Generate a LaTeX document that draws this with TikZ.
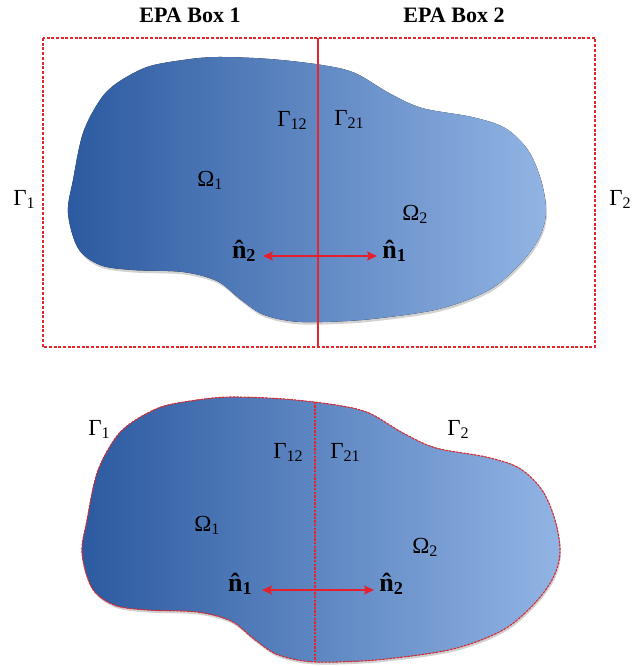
\documentclass[tikz,border=0pt]{standalone}
\usepackage{fontspec}
\setmainfont{Liberation Serif}
\usetikzlibrary{arrows.meta}
\definecolor{boxred}{RGB}{228,38,45}
\definecolor{arrred}{RGB}{232,30,42}
\definecolor{blobL}{RGB}{44,90,160}
\definecolor{blobM}{RGB}{64,126,206}
\definecolor{blobR}{RGB}{145,180,228}
\newcommand{\nhat}{\ooalign{n\cr\hidewidth\symbol{"02C6}\hidewidth\cr}}
\begin{document}
\begin{tikzpicture}[x=0.5pt,y=-0.5pt,
  lbl/.style={inner sep=0pt, anchor=base west, font=\fontsize{11.5}{13}\selectfont},
  ttl/.style={inner sep=0pt, anchor=base, font=\fontsize{11}{13}\selectfont\bfseries},
  nvec/.style={inner sep=0pt, font=\fontsize{13}{15}\selectfont\bfseries},
  arr/.style={draw=arrred, line width=0.75pt, {Stealth[length=5pt,width=4.5pt,inset=1pt]}-{Stealth[length=5pt,width=4.5pt,inset=1pt]}},
  blobfill/.style={left color=blobL, middle color=blobM, right color=blobR},
  shadowfill/.style={fill=gray!35},
  boxdash/.style={draw=boxred, line width=0.65pt, dash pattern=on 1.5pt off 0.85pt},
  outdash/.style={draw=boxred, line width=0.55pt, dash pattern=on 1.2pt off 0.6pt},
  divline/.style={draw=boxred, line width=0.7pt},
]
\useasboundingbox (0,0) rectangle (644,666);
\def\blobpath{plot[smooth cycle, tension=0.55] coordinates {
 (147,67) (183,60) (217,57) (270,59) (322,65) (355,73) (389,93) (422,108)
 (472,117) (505,128) (528,150) (541,180) (546,212) (539,238) (520,264)
 (489,290) (439,309) (372,319) (322,322) (290,321) (262,314) (240,299)
 (217,281) (183,272) (133,270) (100,265) (78,248) (68,213) (73,180)
 (83,133) (100,100) (117,83)}}

% ---------- top diagram ----------
\fill[shadowfill, shift={(1,2.5)}] \blobpath;
\fill[blobfill] \blobpath;
\draw[boxdash] (43,38) rectangle (595,347);
\coordinate (dtop) at (318,38);
\coordinate (dbot) at (318,347);
\draw[divline] (dtop) -- (dbot);

\node[ttl] (t1) at (190,22) {EPA Box 1};
\node[ttl] (t2) at (454,22) {EPA Box 2};
\node[lbl] (g1) at (13,205) {Γ\textsubscript{1}};
\node[lbl] (g2) at (609,205) {Γ\textsubscript{2}};
\node[lbl] (g12) at (277,126) {Γ\textsubscript{12}};
\node[lbl] (g21) at (334,125) {Γ\textsubscript{21}};
\node[lbl] (o1) at (197,186) {Ω\textsubscript{1}};
\node[lbl] (o2) at (402,220) {Ω\textsubscript{2}};
\node[nvec, anchor=base east] (na2) at (257,258) {\nhat\textsubscript{2}};
\node[nvec, anchor=base west] (na1) at (382,258) {\nhat\textsubscript{1}};
\draw[arr] ([xshift=3pt,yshift=1pt]na2.base east) -- ([xshift=-2.5pt,yshift=1pt]na1.base west);

% ---------- bottom diagram ----------
\begin{scope}[shift={(14,340)}]
  \fill[shadowfill, shift={(1,2.5)}] \blobpath;
  \fill[blobfill] \blobpath;
  \begin{scope}
    \clip \blobpath;
    \coordinate (ctop) at (301,40);
    \coordinate (cbot) at (301,340);
    \draw[outdash] (ctop) -- (cbot);
  \end{scope}
  \draw[outdash] \blobpath;
\end{scope}

\node[lbl] (bg1) at (88,435) {Γ\textsubscript{1}};
\node[lbl] (bg2) at (447,435) {Γ\textsubscript{2}};
\node[lbl] (bg12) at (273,458) {Γ\textsubscript{12}};
\node[lbl] (bg21) at (330,458) {Γ\textsubscript{21}};
\node[lbl] (bo1) at (194,531) {Ω\textsubscript{1}};
\node[lbl] (bo2) at (412,553) {Ω\textsubscript{2}};
\node[nvec, anchor=base east] (nb1) at (253,591) {\nhat\textsubscript{1}};
\node[nvec, anchor=base west] (nb2) at (379,591) {\nhat\textsubscript{2}};
\draw[arr] ([xshift=4.5pt,yshift=0.5pt]nb1.base east) -- ([xshift=-2.5pt,yshift=0.5pt]nb2.base west);
\end{tikzpicture}
\end{document}
